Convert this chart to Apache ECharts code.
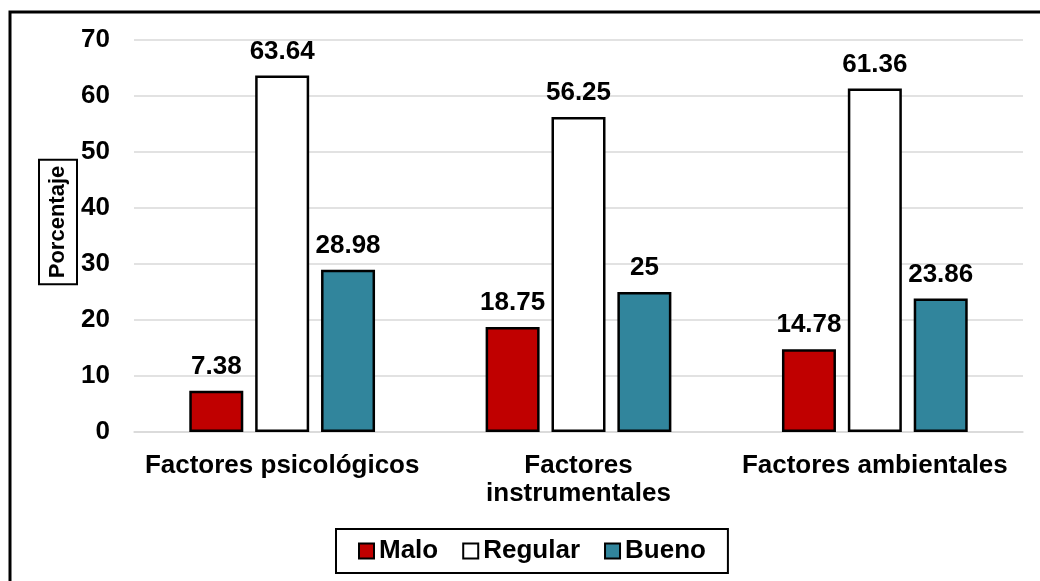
<!DOCTYPE html>
<html><head><meta charset="utf-8">
<script src="https://cdn.jsdelivr.net/npm/echarts@6/dist/echarts.min.js"></script>
<style>html,body{margin:0;padding:0;background:#fff}#c{width:1040px;height:581px}</style>
</head><body><div id="c"></div>
<script>
const categories = ['Factores psicológicos', 'Factores\ninstrumentales', 'Factores ambientales'];
const malo = [7.38, 18.75, 14.78];
const regular = [63.64, 56.25, 61.36];
const bueno = [28.98, 25, 23.86];
const seriesNames = ['Malo', 'Regular', 'Bueno'];
const yTicks = { min: 0, max: 70, interval: 10 };
const yTitle = 'Porcentaje';

const font = 'Liberation Sans, Arial, sans-serif';
const chart = echarts.init(document.getElementById('c'));
function bar(name, data, color) {
  return {
    name, type: 'bar', data,
    barWidth: 54, barGap: '22%', barCategoryGap: '37%',
    itemStyle: { color, borderColor: '#000', borderWidth: 2.5 },
    label: { show: true, position: 'top', distance: 11, color: '#000', fontFamily: font, fontWeight: 'bold', fontSize: 26 }
  };
}
chart.setOption({
  animation: false,
  graphic: [
    { type: 'polyline', shape: { points: [[10, 581], [10, 12], [1040, 12]] }, style: { fill: 'none', stroke: '#000', lineWidth: 3 } },
    { type: 'text', x: 58, y: 222, rotation: Math.PI / 2,
      style: { text: yTitle, align: 'center', verticalAlign: 'middle', fontFamily: font, fontWeight: 'bold', fontSize: 22, fill: '#000',
        lineHeight: 26, borderColor: '#000', borderWidth: 2, padding: [6, 6, 6, 6] } }
  ],
  grid: { left: 134, right: 17, top: 40, bottom: 149 },
  legend: {
    bottom: 8, left: 336, data: seriesNames,
    itemWidth: 15, itemHeight: 15, itemGap: 24, icon: 'rect',
    borderColor: '#000', borderWidth: 2, padding: [9, 22, 9, 22],
    textStyle: { fontFamily: font, fontWeight: 'bold', fontSize: 26, color: '#000', padding: [0, 0, 0, 0] }
  },
  xAxis: {
    type: 'category', data: categories,
    axisLine: { lineStyle: { color: '#D9D9D9', width: 1.5 } },
    axisTick: { show: false },
    axisLabel: { fontFamily: font, fontWeight: 'bold', fontSize: 26, color: '#000', margin: 20, lineHeight: 28, interval: 0 }
  },
  yAxis: {
    type: 'value', min: yTicks.min, max: yTicks.max, interval: yTicks.interval,
    axisLine: { show: false }, axisTick: { show: false },
    splitLine: { lineStyle: { color: '#D9D9D9', width: 1.5 } },
    axisLabel: { fontFamily: font, fontWeight: 'bold', fontSize: 26, color: '#000', margin: 24 }
  },
  series: [bar('Malo', malo, '#C00000'), bar('Regular', regular, '#FFFFFF'), bar('Bueno', bueno, '#31859C')]
});
</script></body></html>
